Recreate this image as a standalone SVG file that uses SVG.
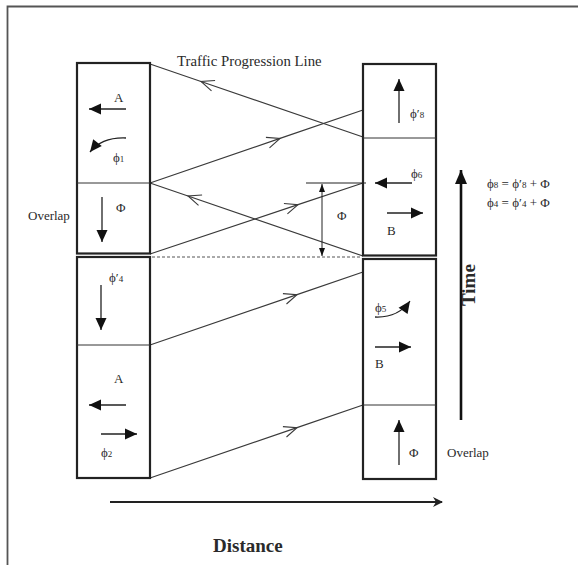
<svg xmlns="http://www.w3.org/2000/svg" width="578" height="565" viewBox="0 0 578 565">
<style>
text{font-family:"Liberation Serif","DejaVu Serif",serif;fill:#2a2a2a;}
.lbl{font-size:13px;}
.sub{font-size:9px;}
.box{fill:none;stroke:#222;stroke-width:2.2;}
.div{stroke:#333;stroke-width:1;}
.conn{fill:none;stroke:#3a3a3a;stroke-width:1.2;marker-mid:url(#chev);}
.arr{fill:none;stroke:#222;stroke-width:1.3;marker-end:url(#tri);}
.big{font-size:19px;font-weight:bold;}
</style>
<defs>
<marker id="chev" markerUnits="userSpaceOnUse" markerWidth="30" markerHeight="30" viewBox="-15 -15 30 30" refX="0" refY="0" orient="auto" overflow="visible">
<path d="M-13,-5.5 L0,0 L-13,5.5" fill="none" stroke="#3a3a3a" stroke-width="1.1"/>
</marker>
<marker id="tri" markerUnits="userSpaceOnUse" markerWidth="30" markerHeight="30" viewBox="-15 -15 30 30" refX="0" refY="0" orient="auto" overflow="visible">
<path d="M0,0 L-12,-5.5 L-12,5.5 Z" fill="#111"/>
</marker>
<marker id="triS" markerUnits="userSpaceOnUse" markerWidth="20" markerHeight="20" viewBox="-10 -10 20 20" refX="0" refY="0" orient="auto-start-reverse" overflow="visible">
<path d="M0,0 L-8,-3 L-8,3 Z" fill="#111"/>
</marker>
<marker id="triT" markerUnits="userSpaceOnUse" markerWidth="30" markerHeight="30" viewBox="-15 -15 30 30" refX="0" refY="0" orient="auto" overflow="visible">
<path d="M0,0 L-14,-6 L-14,6 Z" fill="#111"/>
</marker>
<marker id="triD" markerUnits="userSpaceOnUse" markerWidth="30" markerHeight="30" viewBox="-15 -15 30 30" refX="0" refY="0" orient="auto" overflow="visible">
<path d="M1,0 L-9,-5 L-6,0 L-9,5 Z" fill="#222"/>
</marker>
</defs>
<rect width="578" height="565" fill="#fff"/>
<g id="frame">
<path d="M7.5,565 V6.5 H578" fill="none" stroke="#555" stroke-width="1.8"/>
</g>
<g id="title"><text x="177" y="66" style="font-size:14.8px">Traffic Progression Line</text></g>

<g id="connectors">
<path class="conn" d="M363,137 L201,81.5 L150,64"/>
<path class="conn" d="M150,183 L280,138.4 L363,110"/>
<path class="conn" d="M363,256 L188,196 L150,183"/>
<path class="conn" d="M150,254 L298,204.6 L363,183"/>
<path class="conn" d="M150,345 L297,294.6 L363,272"/>
<path class="conn" d="M150,478 L297,427.6 L363,405"/>
<line x1="152" y1="257" x2="362" y2="257" stroke="#555" stroke-width="1" stroke-dasharray="3,2"/>
</g>

<g id="left-top">
<rect class="box" x="77" y="63" width="73" height="190.5"/>
<line class="div" x1="77" y1="183" x2="150" y2="183"/>
<line class="arr" x1="126" y1="109" x2="89" y2="109"/>
<text class="lbl" x="114" y="102">A</text>
<path class="arr" d="M126,138 Q102,137 90,152"/>
<text class="lbl" x="113" y="162">ϕ<tspan class="sub">1</tspan></text>
<line class="arr" x1="102" y1="197" x2="102" y2="242"/>
<text class="lbl" x="116" y="212">Φ</text>
</g>
<g id="overlap-left"><text class="lbl" x="28" y="220">Overlap</text></g>

<g id="left-bottom">
<rect class="box" x="77" y="257" width="73" height="221"/>
<line class="div" x1="77" y1="345" x2="150" y2="345"/>
<text class="lbl" x="109" y="282">ϕ′<tspan class="sub">4</tspan></text>
<line class="arr" x1="101" y1="285" x2="101" y2="330"/>
<text class="lbl" x="114" y="383">A</text>
<line class="arr" x1="126" y1="405" x2="89" y2="405"/>
<line class="arr" x1="101" y1="434" x2="137" y2="434"/>
<text class="lbl" x="101" y="457">ϕ<tspan class="sub">2</tspan></text>
</g>

<g id="right-top">
<rect class="box" x="363" y="64" width="73" height="191.5"/>
<line class="div" x1="363" y1="138" x2="436" y2="138"/>
<line class="arr" x1="399" y1="123" x2="399" y2="79"/>
<text class="lbl" x="410" y="118">ϕ′<tspan class="sub">8</tspan></text>
<text class="lbl" x="411" y="178">ϕ<tspan class="sub">6</tspan></text>
<line class="arr" x1="412" y1="183" x2="375" y2="183"/>
<line class="arr" x1="387" y1="213" x2="423" y2="213"/>
<text class="lbl" x="387" y="235">B</text>
</g>

<g id="right-bottom">
<rect class="box" x="363" y="259" width="73" height="220"/>
<line class="div" x1="363" y1="405" x2="436" y2="405"/>
<text class="lbl" x="375" y="312">ϕ<tspan class="sub">5</tspan></text>
<path class="arr" d="M375,317 Q398,318 410,301"/>
<line class="arr" x1="375" y1="347" x2="411" y2="347"/>
<text class="lbl" x="375" y="368">B</text>
<line class="arr" x1="399" y1="465" x2="399" y2="420"/>
<text class="lbl" x="409" y="457">Φ</text>
</g>
<g id="overlap-right"><text class="lbl" x="447" y="457">Overlap</text></g>

<g id="phi-offset">
<line x1="306" y1="183" x2="366" y2="183" stroke="#222" stroke-width="1.2"/>
<line x1="322" y1="184" x2="322" y2="256" stroke="#222" stroke-width="1" marker-start="url(#triS)" marker-end="url(#triS)"/>
<text class="lbl" x="337" y="220">Φ</text>
</g>

<g id="equations">
<text class="lbl" x="487" y="188">ϕ<tspan class="sub">8</tspan> = ϕ′<tspan class="sub">8</tspan> + Φ</text>
<text class="lbl" x="487" y="207">ϕ<tspan class="sub">4</tspan> = ϕ′<tspan class="sub">4</tspan> + Φ</text>
</g>

<g id="time-axis">
<line x1="461" y1="420" x2="461" y2="170" stroke="#111" stroke-width="2.6" marker-end="url(#triT)"/>
<text class="big" transform="translate(475,306) rotate(-90)">Time</text>
</g>

<g id="distance-axis">
<line x1="110" y1="502" x2="442" y2="502" stroke="#222" stroke-width="2" marker-end="url(#triD)"/>
<text class="big" x="213" y="552">Distance</text>
</g>
</svg>
